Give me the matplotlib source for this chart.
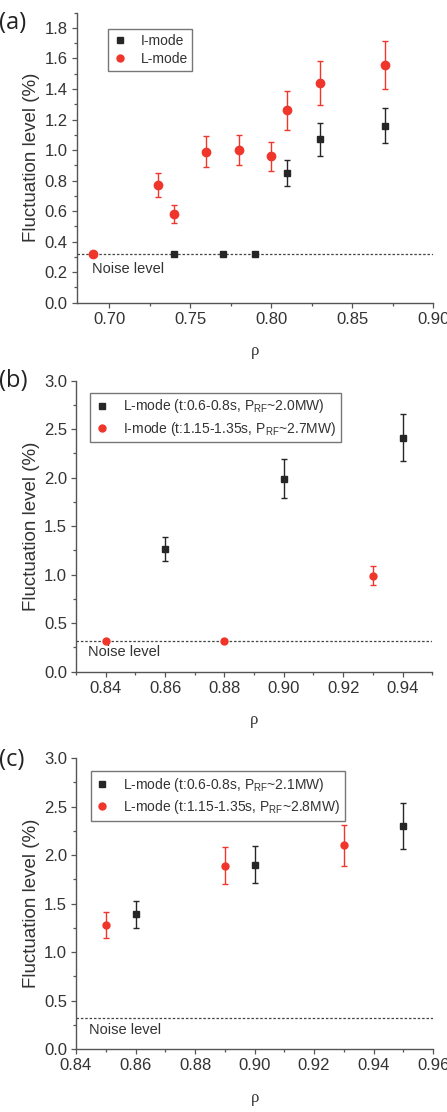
import matplotlib
matplotlib.use('Agg')
import matplotlib.pyplot as plt
from matplotlib.lines import Line2D
from matplotlib.ticker import MultipleLocator, FormatStrFormatter

plt.rcParams['font.family'] = ['Liberation Sans', 'DejaVu Sans']

# panel (a)
a_imode_x = [0.74, 0.77, 0.79, 0.81, 0.83, 0.87]
a_imode_y = [0.32, 0.32, 0.32, 0.85, 1.07, 1.16]
a_imode_err = [0, 0, 0, 0.085, 0.107, 0.117]
a_lmode_x = [0.69, 0.73, 0.74, 0.76, 0.78, 0.80, 0.81, 0.83, 0.87]
a_lmode_y = [0.32, 0.77, 0.58, 0.99, 1.00, 0.96, 1.26, 1.44, 1.56]
a_lmode_err = [0, 0.078, 0.058, 0.10, 0.10, 0.096, 0.128, 0.144, 0.157]

# panel (b)
b_lmode_x = [0.86, 0.90, 0.94]
b_lmode_y = [1.26, 1.99, 2.41]
b_lmode_err = [0.124, 0.20, 0.243]
b_imode_x = [0.84, 0.88, 0.93]
b_imode_y = [0.32, 0.32, 0.99]
b_imode_err = [0, 0, 0.10]

# panel (c)
c_lmode1_x = [0.86, 0.90, 0.95]
c_lmode1_y = [1.39, 1.90, 2.30]
c_lmode1_err = [0.14, 0.19, 0.24]
c_lmode2_x = [0.85, 0.89, 0.93]
c_lmode2_y = [1.28, 1.89, 2.10]
c_lmode2_err = [0.13, 0.19, 0.21]

noise_level = 0.32

BLACK = '#262626'
RED = '#f0352a'
AXC = '#555555'
TXT = '#333333'

fig = plt.figure(figsize=(4.47, 11.12), dpi=100)
ax_a = fig.add_axes([0.1716, 0.7278, 0.798, 0.2608])
ax_b = fig.add_axes([0.1700, 0.3960, 0.797, 0.2617])
ax_c = fig.add_axes([0.1700, 0.0567, 0.799, 0.2614])


def style(ax, xlim, ylim, xmaj, xmin, ymaj, ymin):
    ax.set_xlim(*xlim)
    ax.set_ylim(*ylim)
    for s in ['top', 'right']:
        ax.spines[s].set_visible(False)
    for s in ['left', 'bottom']:
        ax.spines[s].set_color(AXC)
        ax.spines[s].set_linewidth(1.0)
    ax.xaxis.set_major_locator(MultipleLocator(xmaj))
    ax.xaxis.set_minor_locator(MultipleLocator(xmin))
    ax.yaxis.set_major_locator(MultipleLocator(ymaj))
    ax.yaxis.set_minor_locator(MultipleLocator(ymin))
    ax.xaxis.set_major_formatter(FormatStrFormatter('%.2f'))
    ax.yaxis.set_major_formatter(FormatStrFormatter('%.1f'))
    ax.tick_params(which='major', direction='out', length=3.5, width=0.9,
                   color=AXC, labelsize=12, labelcolor=TXT, pad=3)
    ax.tick_params(which='minor', direction='out', length=2, width=0.9, color=AXC)
    ax.set_ylabel('Fluctuation level (%)', fontsize=13.5, color=TXT, labelpad=3)
    ax.set_xlabel('ρ', fontsize=12, color=TXT, family='Liberation Serif', labelpad=12)
    ax.axhline(noise_level, color='#444444', lw=0.9, ls=(0, (2, 1.5)), zorder=1)


def series(ax, x, y, err, color, marker, ms):
    ax.errorbar(x, y, yerr=err, fmt=marker, color=color, ecolor=color,
                ms=ms, elinewidth=1.0, capsize=2.5, capthick=1.0, zorder=3)


def legend(ax, anchor, labels, markers):
    handles = [Line2D([], [], ls='none', marker=m, color=c, ms=5)
               for m, c in markers]
    leg = ax.legend(handles, labels, loc='upper left', bbox_to_anchor=anchor,
                    borderaxespad=0, fontsize=10, frameon=True, fancybox=False,
                    handlelength=1.0, handletextpad=1.0, borderpad=0.35,
                    labelspacing=0.3)
    leg.get_frame().set_edgecolor(AXC)
    leg.get_frame().set_linewidth(1.0)
    for t in leg.get_texts():
        t.set_color(TXT)


# (a)
style(ax_a, (0.68, 0.90), (0, 1.9), 0.05, 0.025, 0.2, 0.1)
series(ax_a, a_imode_x, a_imode_y, a_imode_err, BLACK, 's', 5)
series(ax_a, a_lmode_x, a_lmode_y, a_lmode_err, RED, 'o', 6)
legend(ax_a, (0.087, 0.944), ['I-mode', 'L-mode'], [('s', BLACK), ('o', RED)])
ax_a.text(0.6892, 0.22, 'Noise level', fontsize=10.5, color=TXT, va='center')

# (b)
style(ax_b, (0.83, 0.95), (0, 3.0), 0.02, 0.01, 0.5, 0.25)
series(ax_b, b_lmode_x, b_lmode_y, b_lmode_err, BLACK, 's', 5)
series(ax_b, b_imode_x, b_imode_y, b_imode_err, RED, 'o', 5)
legend(ax_b, (0.039, 0.959),
       ['L-mode (t:0.6-0.8s, P$_{\\mathregular{RF}}$~2.0MW)',
        'I-mode (t:1.15-1.35s, P$_{\\mathregular{RF}}$~2.7MW)'],
       [('s', BLACK), ('o', RED)])
ax_b.text(0.8339, 0.20, 'Noise level', fontsize=10.5, color=TXT, va='center')

# (c)
style(ax_c, (0.84, 0.96), (0, 3.0), 0.02, 0.01, 0.5, 0.25)
series(ax_c, c_lmode1_x, c_lmode1_y, c_lmode1_err, BLACK, 's', 5)
series(ax_c, c_lmode2_x, c_lmode2_y, c_lmode2_err, RED, 'o', 5)
legend(ax_c, (0.041, 0.956),
       ['L-mode (t:0.6-0.8s, P$_{\\mathregular{RF}}$~2.1MW)',
        'L-mode (t:1.15-1.35s, P$_{\\mathregular{RF}}$~2.8MW)'],
       [('s', BLACK), ('o', RED)])
ax_c.text(0.8445, 0.20, 'Noise level', fontsize=10.5, color=TXT, va='center')

# panel letters
for lab, yy in [('(a)', 23), ('(b)', 381), ('(c)', 760)]:
    fig.text(-0.003, 1 - yy / 1112, lab, fontsize=17, color='#222222',
             family='Open Sans', va='center', ha='left')

fig.savefig('out.png', dpi=100)
